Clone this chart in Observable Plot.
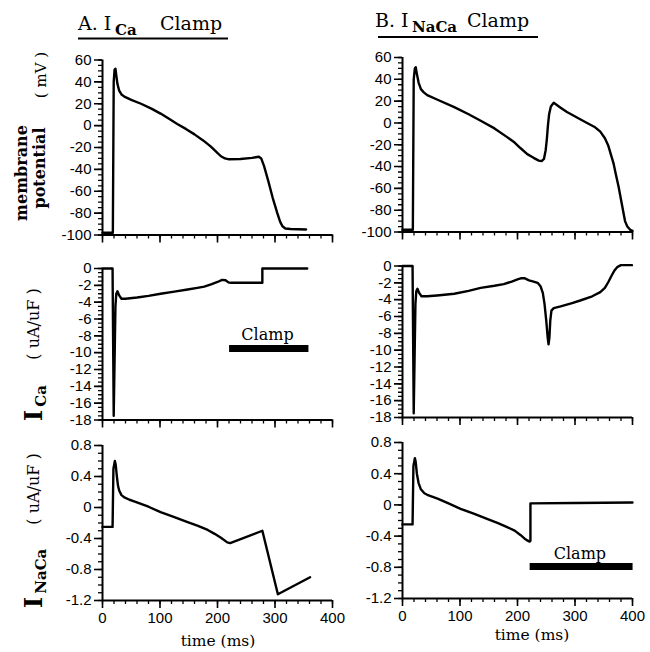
<!DOCTYPE html>
<html><head><meta charset="utf-8">
<script src="https://cdn.jsdelivr.net/npm/d3@7"></script>
<script src="https://cdn.jsdelivr.net/npm/@observablehq/plot@0.6"></script>
<style>
body{margin:0;background:#fff;}
#root{display:block;background:#fff}
</style></head><body>
<svg id="root" width="650" height="652" xmlns="http://www.w3.org/2000/svg"></svg>
<script>
// time (ms) axis
const xDomain = [0, 400];
const xMajor = [0, 100, 200, 300, 400];
const xMinor = d3.range(0, 401, 20);

// A: I_Ca clamp — membrane potential (mV)
const vmA = [[0,-98],[17,-98],[18,-98],[19.5,40],[21,51],[22.5,52],[24,46],[26,38],[29,32],[33,28.5],[38,26.5],[50,23.5],[67,20],[85,15.5],[101,11],[115,6.5],[130,1.5],[145,-3],[160,-8],[175,-13.5],[188,-19],[198,-24],[206,-28],[213,-30],[220,-30.8],[240,-30.5],[260,-29.5],[272,-28.5],[276,-30],[281,-37],[288,-50],[296,-66],[304,-80],[309,-88],[313,-92],[318,-94],[327,-94.5],[354,-95]];
// B: I_NaCa clamp — membrane potential (mV)
const vmB = [[0,-98],[17,-98],[18,-98],[19.5,40],[21.5,50],[23,51],[25,45],[28,37],[32,31],[37,28],[43,25.5],[60,21.5],[90,14.5],[115,8],[136,2],[160,-5],[182,-13],[195,-18],[205,-23],[217,-28.6],[228,-32],[237,-34.5],[242,-35],[246,-33],[249,-25],[251,-15],[253,-2],[255,8],[258,15],[263,18.5],[275,14],[286,10],[305,4.5],[321,0],[335,-4],[344,-8],[352,-14],[358,-21],[363,-30],[367,-37],[371,-47],[376,-59],[382,-76],[387,-90],[391,-95],[396,-98],[400,-99]];
// A: I_Ca (uA/uF)
const icaA = [[0,0],[17.5,0],[18,-4.5],[19.5,-17.5],[21,-11],[22.5,-4.5],[24,-3],[26,-2.7],[29,-3.2],[33,-3.6],[40,-3.6],[60,-3.45],[80,-3.25],[101,-3],[125,-2.75],[148,-2.5],[165,-2.3],[177,-2.15],[190,-1.85],[200,-1.6],[208,-1.35],[214,-1.4],[219,-1.65],[223,-1.7],[278,-1.7],[278,0],[356,0]];
// B: I_Ca (uA/uF)
const icaB = [[0,0],[17.5,0],[18,-4.5],[19.5,-17.5],[21,-11],[22.5,-4.5],[24,-3],[26,-2.7],[29,-3.2],[33,-3.6],[43,-3.6],[60,-3.5],[90,-3.3],[115,-2.95],[136,-2.6],[160,-2.35],[176,-2.15],[190,-1.85],[200,-1.6],[207,-1.45],[212,-1.45],[220,-1.7],[228,-1.85],[235,-2.0],[240,-2.4],[244,-3.2],[247,-4.5],[250,-6.5],[252.5,-8.5],[254,-9.3],[255.5,-8.5],[257,-6.5],[259,-5.3],[263,-5],[275,-4.8],[295,-4.4],[309,-4.1],[330,-3.6],[344,-3.1],[352,-2.6],[358,-1.9],[364,-1.1],[369,-0.5],[374,-0.1],[380,0.1],[399,0.1]];
// A: I_NaCa (uA/uF)
const incaA = [[0,-0.25],[17.5,-0.25],[19,0.5],[21.5,0.6],[23,0.55],[25,0.4],[27,0.28],[29,0.22],[33,0.16],[38,0.13],[47,0.1],[55,0.08],[80,0.01],[101,-0.06],[125,-0.125],[148,-0.19],[165,-0.235],[183,-0.29],[195,-0.34],[206,-0.39],[217,-0.45],[222,-0.46],[278,-0.3],[305,-1.12],[361,-0.9]];
// B: I_NaCa (uA/uF)
const incaB = [[0,-0.25],[17.5,-0.25],[19,0.5],[21.5,0.6],[23,0.55],[25,0.4],[28,0.28],[32,0.2],[38,0.15],[43,0.13],[61,0.08],[80,0.02],[101,-0.05],[125,-0.115],[147,-0.18],[165,-0.23],[182,-0.285],[195,-0.33],[205,-0.385],[212,-0.43],[217,-0.455],[221,-0.47],[222.5,-0.46],[222.5,0.02],[300,0.025],[400,0.03]];

// clamp periods: [start ms, end ms, level]
const clampA = [221, 359, -9.5];
const clampB = [222, 401, -0.79];

// y axes
const vmDomain = [-100, 60], vmMajor = d3.range(-100, 61, 20), vmMinor = d3.range(-100, 61, 5);
const icaDomain = [-18, 0], icaMajor = d3.range(-18, 1, 2), icaMinor = d3.range(-18, 0.01, 0.5);
const incaDomain = [-1.2, 0.8], incaMajor = [-1.2, -0.8, -0.4, 0, 0.4, 0.8], incaMinor = d3.range(-12, 9, 1).map(d => d / 10);

const root = document.getElementById("root");
const fmt = d => String(+d.toFixed(2));
const blank = () => "";

function panel({data, yDomain, yMajor, yMinor, showX, frame, clamp}) {
  const ml = 55, mr = 15, mt = 10, mb = showX ? 30 : 14;
  const fw = frame.x1 - frame.x0, fh = frame.y1 - frame.y0;
  const x0 = xDomain[0], y0 = yDomain[0];
  const marks = [
    Plot.axisY({ticks: yMinor, tickSize: 4, tickFormat: blank, label: null, strokeWidth: 1.3}),
    Plot.axisY({ticks: yMajor, tickSize: 8, tickPadding: 3, tickFormat: fmt, label: null, strokeWidth: 1.6}),
    Plot.axisX({ticks: xMinor, tickSize: 4, tickFormat: blank, label: null, strokeWidth: 1.3}),
    Plot.axisX({ticks: xMajor, tickSize: 8, tickPadding: 4, tickFormat: showX ? fmt : blank, label: null, strokeWidth: 1.6}),
    Plot.ruleX([x0], {strokeWidth: 2}),
    Plot.ruleY([y0], {strokeWidth: 2}),
    Plot.line(data, {x: d => d[0], y: d => d[1], strokeWidth: 2.4, strokeLinejoin: "round", strokeLinecap: "round"})
  ];
  if (clamp) {
    marks.push(Plot.ruleY([clamp], {y: d => d[2], x1: d => d[0], x2: d => d[1], strokeWidth: 7}));
    marks.push(Plot.text([clamp], {x: d => (d[0] + d[1]) / 2 - 3, y: d => d[2], text: () => "Clamp",
      dy: -8, lineAnchor: "bottom", fontFamily: "DejaVu Serif", fontSize: 16, fill: "black"}));
  }
  const w = ml + fw + mr, h = mt + fh + mb;
  const svg = Plot.plot({
    width: w, height: h,
    marginLeft: ml, marginRight: mr, marginTop: mt, marginBottom: mb,
    x: {domain: xDomain}, y: {domain: yDomain},
    style: {fontFamily: "Liberation Sans, Arial, sans-serif", fontSize: "15px", color: "black"},
    marks
  });
  svg.setAttribute("x", frame.x0 - ml);
  svg.setAttribute("y", frame.y0 - mt);
  svg.style.width = w + "px";
  svg.style.height = h + "px";
  svg.style.maxWidth = "none";
  root.appendChild(svg);
}

panel({data: vmA, yDomain: vmDomain, yMajor: vmMajor, yMinor: vmMinor, showX: false, frame: {x0: 102, x1: 332, y0: 59.5, y1: 234.5}});
panel({data: vmB, yDomain: vmDomain, yMajor: vmMajor, yMinor: vmMinor, showX: false, frame: {x0: 402, x1: 632, y0: 57, y1: 231.5}});
panel({data: icaA, yDomain: icaDomain, yMajor: icaMajor, yMinor: icaMinor, showX: false, frame: {x0: 102, x1: 332, y0: 268, y1: 419.5}, clamp: clampA});
panel({data: icaB, yDomain: icaDomain, yMajor: icaMajor, yMinor: icaMinor, showX: false, frame: {x0: 402, x1: 632, y0: 265.5, y1: 417}});
panel({data: incaA, yDomain: incaDomain, yMajor: incaMajor, yMinor: incaMinor, showX: true, frame: {x0: 102, x1: 332, y0: 445, y1: 600}});
panel({data: incaB, yDomain: incaDomain, yMajor: incaMajor, yMinor: incaMinor, showX: true, frame: {x0: 402, x1: 632, y0: 442, y1: 598}, clamp: clampB});

// titles and axis labels
root.insertAdjacentHTML("beforeend", `
 <g font-family="DejaVu Serif" fill="black">
  <text y="30" font-size="19"><tspan x="78">A. I</tspan><tspan x="115" dy="5" font-size="15" font-weight="bold">Ca</tspan><tspan x="160" dy="-5">Clamp</tspan></text>
  <line x1="78" x2="228" y1="38.5" y2="38.5" stroke="black" stroke-width="2"/>
  <text y="27" font-size="19"><tspan x="375">B. I</tspan><tspan x="412" dy="5" font-size="15" font-weight="bold">NaCa</tspan><tspan x="467" dy="-5">Clamp</tspan></text>
  <line x1="378" x2="538" y1="37" y2="37" stroke="black" stroke-width="2"/>
  <text transform="translate(27,173) rotate(-90)" text-anchor="middle" font-size="16" font-weight="bold">membrane</text>
  <text transform="translate(45,168) rotate(-90)" text-anchor="middle" font-size="16" font-weight="bold">potential</text>
  <text transform="translate(46,75) rotate(-90)" text-anchor="middle" font-size="15">( mV )</text>
  <text transform="translate(42,421) rotate(-90)" font-size="24" font-weight="bold">I<tspan dx="3" dy="4" font-size="15">Ca</tspan></text>
  <text transform="translate(39,324) rotate(-90)" text-anchor="middle" font-size="16">(  uA/uF  )</text>
  <text transform="translate(42,608) rotate(-90)" font-size="24" font-weight="bold">I<tspan dx="3" dy="4" font-size="15">NaCa</tspan></text>
  <text transform="translate(39,489) rotate(-90)" text-anchor="middle" font-size="16">(  uA/uF  )</text>
  <text x="218" y="646" text-anchor="middle" font-size="15.5">time (ms)</text>
  <text x="532" y="640" text-anchor="middle" font-size="15.5">time (ms)</text>
 </g>`);
</script>
</body></html>
